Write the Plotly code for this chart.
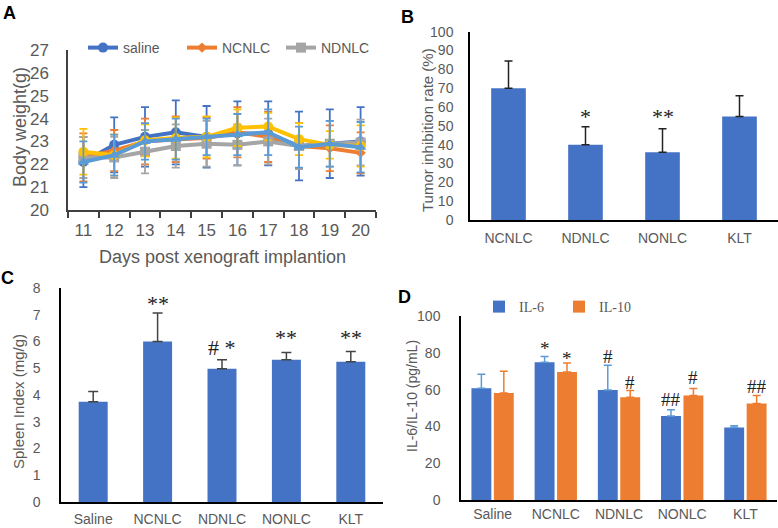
import plotly.graph_objects as go

# ---------------- data ----------------
# Panel A: body weight (g) by day
days = ["11", "12", "13", "14", "15", "16", "17", "18", "19", "20"]
saline = [22.1, 22.85, 23.2, 23.4, 23.2, 23.35, 23.35, 22.8, 22.9, 23.0]
saline_err = [1.1, 1.2, 1.3, 1.4, 1.35, 1.4, 1.4, 1.5, 1.5, 1.5]
ncnlc = [22.3, 22.6, 23.0, 23.1, 23.15, 23.4, 23.2, 22.8, 22.7, 22.5]
ncnlc_err = [1.05, 0.9, 1.0, 1.0, 0.9, 1.1, 1.1, 1.0, 1.0, 0.9]
ndnlc = [22.3, 22.3, 22.55, 22.8, 22.9, 22.85, 23.0, 22.8, 22.9, 22.95]
ndnlc_err = [0.9, 0.9, 0.95, 0.95, 1.0, 0.9, 1.0, 1.0, 1.0, 1.0]
group4 = [22.55, 22.4, 23.05, 23.15, 23.2, 23.6, 23.65, 23.1, 22.85, 22.8]
group4_err = [1.0, 0.9, 0.7, 0.9, 0.9, 0.8, 0.6, 0.7, 0.6, 0.9]
group5 = [22.1, 22.4, 23.0, 23.1, 23.2, 23.3, 23.4, 22.75, 22.9, 22.75]
group5_err = [0.9, 0.9, 0.8, 0.9, 0.8, 0.9, 1.0, 0.9, 1.0, 1.1]

# Panel B: tumor inhibition rate (%)
b_groups = ["NCNLC", "NDNLC", "NONLC", "KLT"]
b_values = [70, 40, 36, 55]
b_err = [14.5, 9.5, 12.5, 11]
b_marks = ["", "*", "**", ""]
b_mark_y = [0, 57.5, 57.5, 0]

# Panel C: spleen index (mg/g)
c_groups = ["Saline", "NCNLC", "NDNLC", "NONLC", "KLT"]
c_values = [3.75, 6.0, 4.98, 5.32, 5.24]
c_err = [0.38, 1.07, 0.34, 0.27, 0.39]
c_marks = ["", "**", "# *", "**", "**"]
c_mark_y = [0, 7.6, 5.95, 6.35, 6.35]

# Panel D: IL-6 / IL-10 (pg/mL)
d_groups = ["Saline", "NCNLC", "NDNLC", "NONLC", "KLT"]
il6 = [60.7, 74.8, 59.8, 45.6, 39.4]
il6_err = [7.6, 3.2, 13.5, 3.4, 0.9]
il10 = [58.2, 69.6, 55.9, 56.8, 52.5]
il10_err = [11.8, 4.8, 3.6, 3.8, 4.3]
il6_marks = ["", "*", "#", "##", ""]
il6_mark_y = [0, 84.0, 79.5, 56.0, 0]
il10_marks = ["", "*", "#", "#", "##"]
il10_mark_y = [0, 78.5, 65.5, 68.0, 63.5]

# ---------------- style ----------------
W, H = 778, 528
SANS = "Liberation Sans, Arial, sans-serif"
SERIF = "Liberation Serif, Times New Roman, serif"
GREY = "#595959"
BLUE, ORANGE, GRAY, YELLOW, LBLUE = "#4472C4", "#ED7D31", "#A5A5A5", "#FFC000", "#5B9BD5"


def fx(p):
    return p / W


def fy(p):
    return 1 - p / H


fig = go.Figure()

a_series = [
    ("saline", saline, saline_err, BLUE, "circle", True),
    ("NCNLC", ncnlc, ncnlc_err, ORANGE, "diamond", True),
    ("NDNLC", ndnlc, ndnlc_err, GRAY, "square", True),
    ("group4", group4, group4_err, YELLOW, "circle", False),
    ("group5", group5, group5_err, LBLUE, "triangle-up", False),
]
for name, vals, errs, col, sym, show in a_series:
    fig.add_trace(go.Scatter(
        x=days, y=vals, name=name, mode="lines+markers",
        line=dict(color=col, width=4),
        marker=dict(color=col, symbol=sym, size=10 if sym != "diamond" else 8),
        error_y=dict(type="data", array=errs, color=col, thickness=1.8, width=4),
        showlegend=show, legend="legend", xaxis="x", yaxis="y",
    ))

fig.add_trace(go.Bar(
    x=b_groups, y=b_values, marker=dict(color=BLUE, line=dict(width=0)), width=0.45,
    error_y=dict(type="data", array=b_err, arrayminus=[0] * len(b_err), symmetric=False,
                 color="#222222", thickness=1.5, width=4),
    showlegend=False, xaxis="x2", yaxis="y2",
))

fig.add_trace(go.Bar(
    x=c_groups, y=c_values, marker=dict(color=BLUE, line=dict(width=0)), width=0.45,
    error_y=dict(type="data", array=c_err, arrayminus=[0] * len(c_err), symmetric=False,
                 color="#444444", thickness=1.5, width=5),
    showlegend=False, xaxis="x3", yaxis="y3",
))

fig.add_trace(go.Bar(
    x=d_groups, y=il6, name="IL-6", marker=dict(color=BLUE, line=dict(width=0)),
    width=0.315, offset=-0.335,
    error_y=dict(type="data", array=il6_err, arrayminus=[0] * len(il6_err), symmetric=False,
                 color=LBLUE, thickness=1.5, width=4),
    legend="legend2", xaxis="x4", yaxis="y4",
))
fig.add_trace(go.Bar(
    x=d_groups, y=il10, name="IL-10", marker=dict(color=ORANGE, line=dict(width=0)),
    width=0.315, offset=0.02,
    error_y=dict(type="data", array=il10_err, arrayminus=[0] * len(il10_err), symmetric=False,
                 color=ORANGE, thickness=1.5, width=4),
    legend="legend2", xaxis="x4", yaxis="y4",
))

ann = []
# significance marks
for i, (m, yv) in enumerate(zip(b_marks, b_mark_y)):
    if m:
        ann.append(dict(x=b_groups[i], y=yv, xref="x2", yref="y2", text=m, showarrow=False,
                        font=dict(family=SERIF, size=22, color="#222222"), yshift=-5))
for i, (m, yv) in enumerate(zip(c_marks, c_mark_y)):
    if m:
        ann.append(dict(x=c_groups[i], y=yv, xref="x3", yref="y3", text=m, showarrow=False,
                        font=dict(family=SERIF, size=22, color="#222222"), yshift=-5))
for i, (m, yv) in enumerate(zip(il6_marks, il6_mark_y)):
    if m:
        ann.append(dict(x=i - 0.1775, y=yv, xref="x4", yref="y4", text=m, showarrow=False,
                        font=dict(family=SERIF, size=19, color="#222222"), yshift=-3))
for i, (m, yv) in enumerate(zip(il10_marks, il10_mark_y)):
    if m:
        ann.append(dict(x=i + 0.1775, y=yv, xref="x4", yref="y4", text=m, showarrow=False,
                        font=dict(family=SERIF, size=19, color="#222222"), yshift=-3))

PAPER = dict(xref="paper", yref="paper", xanchor="center", yanchor="middle", showarrow=False)
# axis titles
ann.append(dict(PAPER, x=fx(20), y=fy(127), text="Body weight(g)", textangle=-90,
                font=dict(family=SANS, size=18, color=GREY)))
ann.append(dict(PAPER, x=fx(222), y=fy(257), text="Days post xenograft implantion",
                font=dict(family=SANS, size=18, color=GREY)))
ann.append(dict(PAPER, x=fx(427), y=fy(130), text="Tumor inhibition rate (%)", textangle=-90,
                font=dict(family=SANS, size=15, color=GREY)))
ann.append(dict(PAPER, x=fx(18), y=fy(402), text="Spleen Index (mg/g)", textangle=-90,
                font=dict(family=SANS, size=15, color=GREY)))
ann.append(dict(PAPER, x=fx(412), y=fy(396), text="IL-6/IL-10 (pg/mL)", textangle=-90,
                font=dict(family=SANS, size=14, color=GREY)))

# panel letters
for letter, px_, py_ in [("A", 9, 13), ("B", 407, 17), ("C", 7, 278), ("D", 404, 297)]:
    ann.append(dict(PAPER, x=fx(px_), y=fy(py_), text="<b>%s</b>" % letter,
                    font=dict(family=SANS, size=18, color="black")))

common_x = dict(showgrid=False, zeroline=False, showline=True, linecolor="black", linewidth=1.5,
                ticks="", tickfont=dict(family=SANS, size=14, color=GREY), ticklabelstandoff=4,
                fixedrange=True, automargin=False)
common_y = dict(showgrid=False, zeroline=False, showline=True, linecolor="black", linewidth=1.5,
                ticks="", tickfont=dict(family=SANS, size=14, color=GREY), ticklabelstandoff=14,
                fixedrange=True, automargin=False)

fig.update_layout(
    width=W, height=H, margin=dict(l=0, r=0, t=0, b=0, autoexpand=False),
    paper_bgcolor="white", plot_bgcolor="white",
    font=dict(family=SANS, color=GREY),
    xaxis=dict(common_x, domain=[fx(68), fx(376)], anchor="y", type="category", range=[-0.5, 9.5],
               linecolor="#404040", ticks="outside", tickson="boundaries", ticklen=6,
               tickcolor="#404040", tickwidth=1.5, tickfont=dict(family=SANS, size=17, color=GREY),
               ticklabelstandoff=4),
    yaxis=dict(common_y, domain=[fy(210), fy(50)], anchor="x", range=[20, 27], dtick=1,
               linecolor="#404040", tickfont=dict(family=SANS, size=17, color=GREY)),
    xaxis2=dict(common_x, domain=[fx(470), 1.0], anchor="y2", type="category", range=[-0.5, 3.5]),
    yaxis2=dict(common_y, domain=[fy(220), fy(31.7)], anchor="x2", range=[0, 100], dtick=10,
                ticklabelstandoff=12),
    xaxis3=dict(common_x, domain=[fx(61), fx(383)], anchor="y3", type="category", range=[-0.5, 4.5],
                ticklabelstandoff=3),
    yaxis3=dict(common_y, domain=[fy(502), fy(288)], anchor="x3", range=[0, 8], dtick=1,
                ticklabelstandoff=16),
    xaxis4=dict(common_x, domain=[fx(461), fx(777)], anchor="y4", type="category", range=[-0.5, 4.5],
                ticklabelstandoff=0),
    yaxis4=dict(common_y, domain=[fy(500), fy(316)], anchor="x4", range=[0, 100], dtick=20,
                ticklabelstandoff=16),
    legend=dict(orientation="h", x=fx(83), y=fy(48), xanchor="left", yanchor="middle",
                font=dict(family=SANS, size=14, color=GREY), bgcolor="rgba(0,0,0,0)",
                itemwidth=30, entrywidth=54, entrywidthmode="pixels", traceorder="normal"),
    legend2=dict(orientation="h", x=fx(479), y=fy(307), xanchor="left", yanchor="middle",
                 font=dict(family=SERIF, size=14, color=GREY), bgcolor="rgba(0,0,0,0)",
                 itemwidth=30, entrywidth=35, entrywidthmode="pixels", traceorder="normal"),
    barmode="group",
    annotations=ann,
)

fig.write_html("out.html", config={"displayModeBar": False},
               post_script="document.body.style.margin='0';")
